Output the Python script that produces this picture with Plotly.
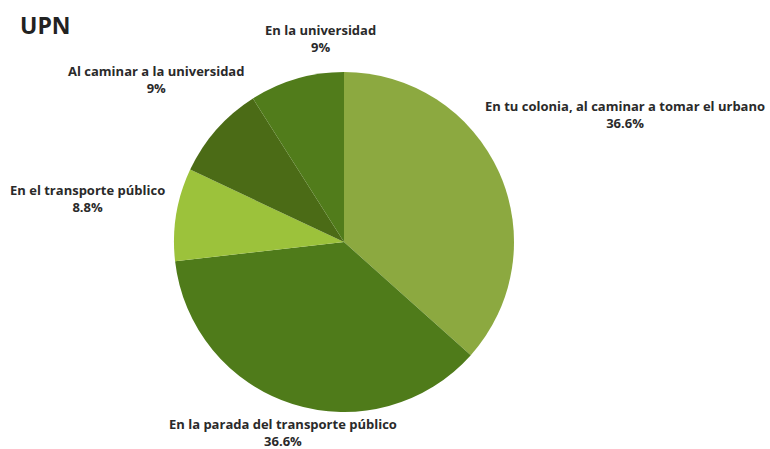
import plotly.graph_objects as go

# Where the respondents at UPN reported the incident
labels = [
    "En tu colonia, al caminar a tomar el urbano",
    "En la parada del transporte público",
    "En el transporte público",
    "Al caminar a la universidad",
    "En la universidad",
]
values = [36.6, 36.6, 8.8, 9, 9]
colors = ["#8CA940", "#4F7B1A", "#9CC23B", "#4B6B16", "#517C1B"]

# label anchor positions (paper coordinates), one per slice
label_x = [0.812, 0.368, 0.113, 0.203, 0.416]
label_y = [0.744, 0.036, 0.559, 0.822, 0.915]

W, H = 770, 449
cx, cy, r = 344, 242, 170

fig = go.Figure(
    go.Pie(
        labels=labels,
        values=values,
        sort=False,
        direction="clockwise",
        rotation=0,
        marker=dict(colors=colors, line=dict(width=0)),
        textinfo="none",
        hoverinfo="label+value",
        showlegend=False,
        domain=dict(
            x=[(cx - r) / W, (cx + r) / W],
            y=[1 - (cy + r) / H, 1 - (cy - r) / H],
        ),
    )
)

def fmt(v):
    return f"{v:g}%"

annotations = []
for lab, v, x, y in zip(labels, values, label_x, label_y):
    annotations.append(
        dict(
            text=f"<b>{lab}</b><br><b>{fmt(v)}</b>",
            x=x, y=y, xref="paper", yref="paper",
            xanchor="center", yanchor="middle",
            showarrow=False, align="center",
            font=dict(family="Open Sans", size=13, color="#2a2a2a"),
        )
    )

annotations.append(
    dict(
        text="<b>UPN</b>", x=0.024, y=0.945, xref="paper", yref="paper",
        xanchor="left", yanchor="middle", showarrow=False,
        font=dict(family="Open Sans", size=23, color="#222222"),
    )
)

fig.update_layout(
    width=W, height=H,
    margin=dict(l=0, r=0, t=0, b=0),
    paper_bgcolor="white",
    plot_bgcolor="white",
    annotations=annotations,
)

fig.write_html("out.html")
